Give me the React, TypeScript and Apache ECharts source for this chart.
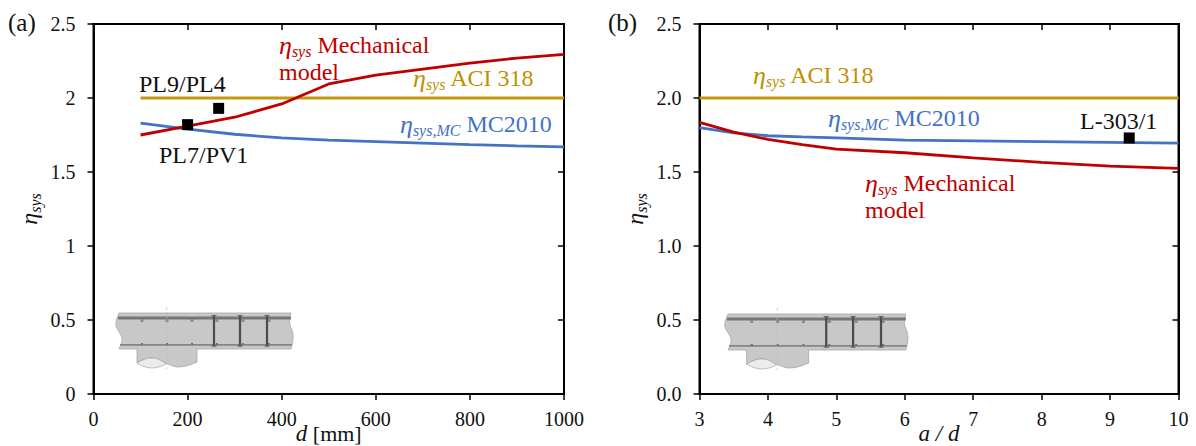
import React, { useEffect, useRef } from "react";
import * as echarts from "echarts";

const depths = [100, 200, 300, 400, 500, 600, 700, 800, 900, 1000];
const mechA = [1.75, 1.81, 1.87, 1.96, 2.095, 2.155, 2.195, 2.235, 2.27, 2.295];
const mcA = [1.83, 1.79, 1.755, 1.73, 1.715, 1.705, 1.695, 1.685, 1.677, 1.67];
const aciA = [2, 2, 2, 2, 2, 2, 2, 2, 2, 2];
const pointsA = [[200, 1.82], [266, 1.93]];

const ratios = [3, 3.5, 4, 4.5, 5, 6, 7, 8, 9, 10];
const mechB = [1.835, 1.77, 1.72, 1.685, 1.655, 1.63, 1.595, 1.565, 1.54, 1.525];
const mcB = [1.8, 1.765, 1.745, 1.737, 1.73, 1.715, 1.71, 1.705, 1.7, 1.695];
const aciB = [2, 2, 2, 2, 2, 2, 2, 2, 2, 2];
const pointsB = [[9.28, 1.73]];

const yLabelsA = ["0", "0.5", "1", "1.5", "2", "2.5"];
const yLabelsB = ["0.0", "0.5", "1.0", "1.5", "2.0", "2.5"];

const FONT = "'Liberation Serif'";
const RED = "#c00000";
const GOLD = "#bf9000";
const BLUE = "#4472c4";

echarts.graphic.registerShape(
  "beamBody",
  echarts.graphic.extendPath(
    "M29 23 L201 23 C199 30 199 34 202 40 C204 46 203 52 201 59 L107 59 L107 72 C100 75 95 77 88 77 C80 77 70 68 62 68 C56 68 52 70 47 73 L47 59 L29 59 C32 52 33 50 31 45 C28 40 25 36 26 33 C26 29 28 26 29 23 Z",
    {}
  )
);
echarts.graphic.registerShape(
  "beamBearing",
  echarts.graphic.extendPath("M47 73 C52 70 56 68 62 68 C68 68 72 71 76 74 C70 77 66 78 62 78 C56 78 52 76 47 73 Z", {})
);

const barX = [52, 77, 102, 127, 153, 179];
const stirrupX = [124, 150, 177];

function beam(x: number, y: number, scaleX: number) {
  const children: any[] = [
    { type: "beamBody", style: { fill: "#c8c8c8", stroke: "#a8a8a8", lineWidth: 0.8 } },
    { type: "beamBearing", style: { fill: "#ececec", stroke: "#9a9a9a", lineWidth: 0.6 } },
    { type: "rect", shape: { x: 28, y: 26.5, width: 173, height: 3 }, style: { fill: "#767676" } },
    { type: "rect", shape: { x: 30, y: 54, width: 172, height: 1.8 }, style: { fill: "#858585" } },
    { type: "line", shape: { x1: 76.7, y1: 17, x2: 76.7, y2: 79 }, style: { stroke: "#bbbbbb", lineWidth: 0.7, lineDash: [3, 2] } },
  ];
  barX.forEach((bx) => {
    children.push({ type: "rect", shape: { x: bx - 1.5, y: 29, width: 3, height: 3 }, style: { fill: "#8c8c8c" } });
    children.push({ type: "rect", shape: { x: bx - 1, y: 53, width: 2, height: 2 }, style: { fill: "#707070" } });
  });
  stirrupX.forEach((sx) => {
    children.push({ type: "rect", shape: { x: sx - 1.1, y: 25.5, width: 2.2, height: 31 }, style: { fill: "#4c4c4c" } });
    children.push({ type: "rect", shape: { x: sx - 2.5, y: 25, width: 5, height: 1.2 }, style: { fill: "#6a6a6a" } });
    children.push({ type: "rect", shape: { x: sx - 2.5, y: 55.3, width: 5, height: 1.4 }, style: { fill: "#6a6a6a" } });
  });
  return { type: "group", x, y, scaleX, children };
}

function plain(text: string, x: number, y: number, fill = "#111111", size = 24) {
  return {
    type: "text",
    style: { text, x, y, fill, font: `${size}px ${FONT}`, align: "left", verticalAlign: "middle" },
  };
}

function eta(sub: string, rest: string, x: number, y: number, fill: string) {
  return {
    type: "text",
    style: {
      text: `{e|η}{s|${sub}}{t| ${rest}}`,
      x,
      y,
      fill,
      font: `24px ${FONT}`,
      align: "left",
      verticalAlign: "middle",
      rich: {
        e: { fill, fontFamily: FONT, fontStyle: "italic", fontSize: 26, lineHeight: 28, verticalAlign: "middle" },
        s: { fill, fontFamily: FONT, fontStyle: "italic", fontSize: 16, lineHeight: 16, padding: [6, 0, 0, 0], verticalAlign: "bottom" },
        t: { fill, fontFamily: FONT, fontSize: 24, lineHeight: 28, verticalAlign: "middle" },
      },
    },
  };
}

const axisBase = {
  axisLine: { show: true, onZero: false, lineStyle: { color: "#000", width: 2 } },
  splitLine: { show: false },
};

function xAxes(gridIndex: number, min: number, max: number, interval: number, nameRich: string) {
  return [
    {
      ...axisBase,
      type: "value",
      gridIndex,
      min,
      max,
      interval,
      axisTick: { show: true, inside: false, length: 6, lineStyle: { color: "#000", width: 1.5 } },
      axisLabel: { margin: 15, color: "#111", fontFamily: FONT, fontSize: 20, formatter: (v: number) => String(v) },
      name: nameRich,
      nameLocation: "middle",
      nameGap: 28,
      nameMoveOverlap: false,
      nameTextStyle: {
        fontFamily: FONT,
        fontSize: 22,
        color: "#111",
        rich: {
          i: { fontFamily: FONT, fontStyle: "italic", fontSize: 23, color: "#111" },
          r: { fontFamily: FONT, fontSize: 22, color: "#111" },
        },
      },
    },
    {
      ...axisBase,
      type: "value",
      gridIndex,
      min,
      max,
      interval,
      axisTick: { show: true, inside: true, length: 6, lineStyle: { color: "#000", width: 1.5 } },
      axisLabel: { show: false },
    },
  ];
}

function yAxes(gridIndex: number, labels: string[]) {
  const name = "{e|η}{s|sys}";
  return [
    {
      ...axisBase,
      type: "value",
      gridIndex,
      min: 0,
      max: 2.5,
      interval: 0.5,
      axisTick: { show: true, inside: false, length: 6, lineStyle: { color: "#000", width: 1.5 } },
      axisLabel: {
        margin: 18,
        color: "#111",
        fontFamily: FONT,
        fontSize: 20,
        formatter: (_v: number, i: number) => labels[i],
      },
      name,
      nameLocation: "middle",
      nameGap: 51,
      nameRotate: 90,
      nameMoveOverlap: false,
      nameTextStyle: {
        fontFamily: FONT,
        color: "#111",
        rich: {
          e: { fontFamily: FONT, fontStyle: "italic", fontSize: 24, color: "#111", lineHeight: 28 },
          s: { fontFamily: FONT, fontStyle: "italic", fontSize: 16, color: "#111", lineHeight: 28, padding: [14, 0, 0, 0] },
        },
      },
    },
    {
      ...axisBase,
      type: "value",
      gridIndex,
      min: 0,
      max: 2.5,
      interval: 0.5,
      axisTick: { show: true, inside: true, length: 6, lineStyle: { color: "#000", width: 1.5 } },
      axisLabel: { show: false },
    },
  ];
}

function line(xs: number[], ys: number[], color: string, axis: number) {
  return {
    type: "line",
    xAxisIndex: axis,
    yAxisIndex: axis,
    data: xs.map((x, i) => [x, ys[i]]),
    showSymbol: false,
    symbol: "none",
    smooth: false,
    lineStyle: { color, width: 2.8 },
    z: 3,
  };
}

function marks(points: number[][], axis: number) {
  return {
    type: "scatter",
    xAxisIndex: axis,
    yAxisIndex: axis,
    data: points,
    symbol: "rect",
    symbolSize: 11,
    itemStyle: { color: "#000", opacity: 1 },
    z: 5,
  };
}

export default function App() {
  const ref = useRef<HTMLDivElement>(null);
  useEffect(() => {
    const chart = echarts.init(ref.current!, undefined, { renderer: "svg" });
    chart.setOption({
      animation: false,
      backgroundColor: "#ffffff",
      grid: [
        { left: 93.5, top: 24, width: 470.5, height: 370, show: true, borderColor: "#000", borderWidth: 2, containLabel: false, outerBoundsMode: "none" },
        { left: 699.5, top: 24, width: 479, height: 370, show: true, borderColor: "#000", borderWidth: 2, containLabel: false, outerBoundsMode: "none" },
      ],
      xAxis: [
        ...xAxes(0, 0, 1000, 200, "{i|d} {r|[mm]}"),
        ...xAxes(1, 3, 10, 1, "{i|a / d}"),
      ],
      yAxis: [...yAxes(0, yLabelsA), ...yAxes(1, yLabelsB)],
      series: [
        line(depths, aciA, "#c49a0c", 0),
        line(depths, mcA, BLUE, 0),
        line(depths, mechA, RED, 0),
        marks(pointsA, 0),
        line(ratios, aciB, "#c49a0c", 2),
        line(ratios, mcB, BLUE, 2),
        line(ratios, mechB, RED, 2),
        marks(pointsB, 2),
      ],
      graphic: [
        beam(90, 290, 1),
        beam(698, 291, 1.034),
        plain("(a)", 8, 22, "#111111", 25),
        plain("(b)", 608, 22, "#111111", 25),
        eta("sys", "Mechanical", 279, 45, RED),
        plain("model", 279, 72, RED),
        eta("sys", "ACI 318", 413, 78, GOLD),
        eta("sys,MC", "MC2010", 400, 124, BLUE),
        plain("PL9/PL4", 139, 84),
        plain("PL7/PV1", 159, 155),
        eta("sys", "ACI 318", 753, 75, GOLD),
        eta("sys,MC", "MC2010", 828, 118, BLUE),
        eta("sys", "Mechanical", 865, 183, RED),
        plain("model", 865, 210, RED),
        plain("L-303/1", 1080, 121),
      ],
    });
    return () => chart.dispose();
  }, []);
  return <div ref={ref} style={{ position: "absolute", left: 0, top: 0, width: 1196, height: 446 }} />;
}
